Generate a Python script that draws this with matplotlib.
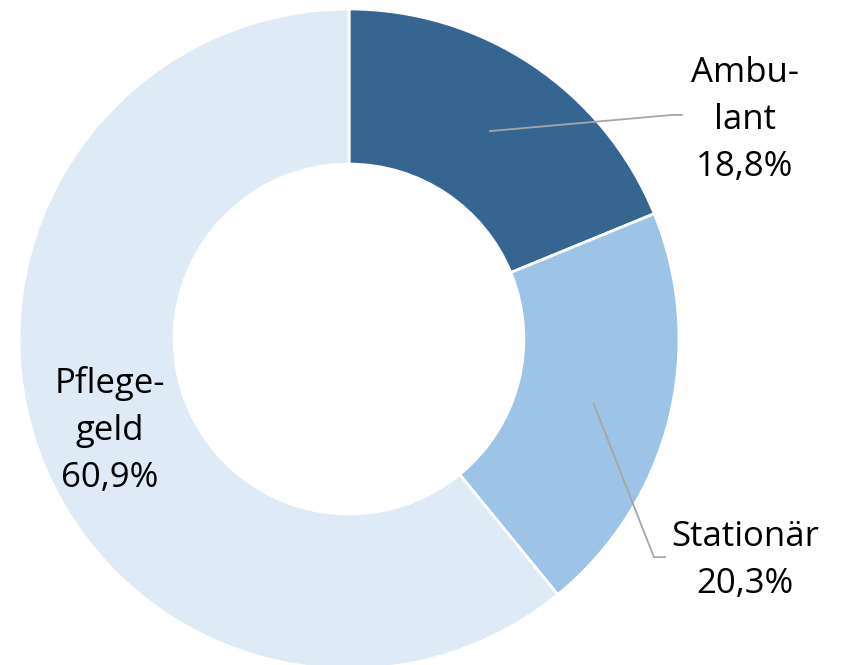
import matplotlib.pyplot as plt

labels = ["Ambu-\nlant", "Stationär", "Pflege-\ngeld"]
values = [18.8, 20.3, 60.9]
colors = ["#376591", "#9DC3E6", "#DEEAF6"]

plt.rcParams['font.family'] = ['Open Sans', 'DejaVu Sans']

fig = plt.figure(figsize=(8.41, 6.65), dpi=100)
ax = fig.add_axes([19 / 841, -4 / 665, 660 / 841, 660 / 665])

wedges, _ = ax.pie(values, colors=colors, startangle=90, counterclock=False,
                   radius=1, wedgeprops=dict(width=0.47, edgecolor="white", linewidth=2))
ax.set_xlim(-1, 1)
ax.set_ylim(-1, 1)
ax.set_aspect("equal")
ax.axis("off")

fmt = lambda v: f"{v:.1f}%".replace(".", ",")

# label positions and leader lines (data units, radius = 1)
ax.text(1.2, 0.664, f"{labels[0]}\n{fmt(values[0])}", ha="center", va="center",
        fontsize=25, linespacing=1.5, clip_on=False)
ax.plot([0.427, 0.979, 1.009], [0.630, 0.679, 0.679], color="#A6A6A6", lw=1.3, clip_on=False)

ax.text(1.2, -0.67, f"{labels[1]}\n{fmt(values[1])}", ha="center", va="center",
        fontsize=25, linespacing=1.5, clip_on=False)
ax.plot([0.742, 0.924, 0.958], [-0.197, -0.661, -0.661], color="#A6A6A6", lw=1.3, clip_on=False)

ax.text(-0.724, -0.276, f"{labels[2]}\n{fmt(values[2])}", ha="center", va="center",
        fontsize=25, linespacing=1.5)

fig.savefig("out.png", dpi=100)
